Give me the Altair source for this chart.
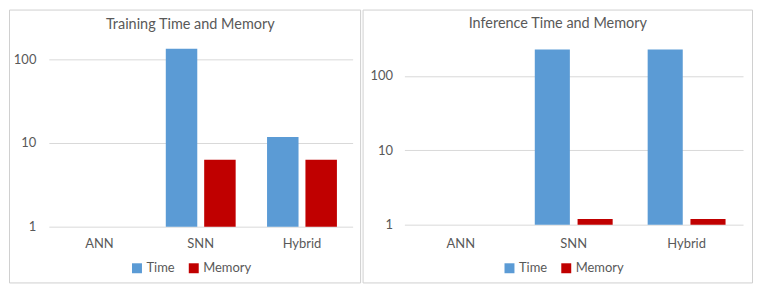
import altair as alt
import pandas as pd

categories = ["ANN", "SNN", "Hybrid"]
series = ["Time", "Memory"]
train_time = [1, 134, 11.8]
train_memory = [1, 6.3, 6.3]
infer_time = [1, 227, 227]
infer_memory = [1, 1.19, 1.19]
y_ticks = [1, 10, 100]
colors = ["#5B9BD5", "#C00000"]
titles = ["Training Time and Memory", "Inference Time and Memory"]

GRAY = "#595959"
FONT = "Lato"


def make_df(time, mem):
    rows = []
    for c, t, m in zip(categories, time, mem):
        rows.append({"model": c, "series": "Time", "value": t})
        rows.append({"model": c, "series": "Memory", "value": m})
    return pd.DataFrame(rows)


one = pd.DataFrame({"k": [0]})


def panel(df, title, w, h, ymax, ypad, xpad, tx, ty, lx, ly, box):
    frame = alt.Chart(one).mark_rect(fillOpacity=0, stroke="#D0D0D0", strokeWidth=1).encode(
        x=alt.value(box[0]), x2=alt.value(box[1]), y=alt.value(box[2]), y2=alt.value(box[3])
    )
    bars = alt.Chart(df).mark_bar().encode(
        x=alt.X(
            "model:N", sort=categories, title=None,
            scale=alt.Scale(paddingInner=0.31, paddingOuter=0.155),
            axis=alt.Axis(labelAngle=0, domain=False, ticks=False, tickSize=0,
                          labelPadding=xpad, grid=False),
        ),
        xOffset=alt.XOffset("series:N", sort=series,
                            scale=alt.Scale(domain=series, paddingInner=0.18, paddingOuter=0)),
        y=alt.Y(
            "value:Q", title=None, stack=False,
            scale=alt.Scale(type="log", domain=[1, ymax], nice=False),
            axis=alt.Axis(values=y_ticks, format="d", domain=False, ticks=False, tickSize=0,
                          labelPadding=ypad, grid=True, gridColor="#D9D9D9", gridWidth=1),
        ),
        color=alt.Color(
            "series:N", sort=series,
            scale=alt.Scale(domain=series, range=colors),
            legend=alt.Legend(title=None, orient="none", legendX=lx, legendY=ly,
                              direction="horizontal", symbolType="square", symbolSize=100,
                              symbolStrokeWidth=0, labelOffset=3, columnPadding=12, padding=0),
        ),
    )
    ttl = alt.Chart(one).mark_text(text=title, fontSize=14.5, font=FONT, color=GRAY,
                                   align="center", baseline="middle").encode(
        x=alt.value(tx), y=alt.value(ty)
    )
    return alt.layer(frame, bars, ttl).properties(width=w, height=h)


left = panel(make_df(train_time, train_memory), titles[0], 305, 185, 159, 13, 11,
             142, -17, 82, 220, [-39.5, 313, -32.5, 241.5])
right = panel(make_df(infer_time, infer_memory), titles[1], 340, 183, 283, 12, 13,
              154, -18, 99, 220, [-41.5, 349.5, -32.5, 241.5])

chart = (
    alt.hconcat(left, right, spacing=0)
    .resolve_scale(x="independent", y="independent", color="independent", xOffset="independent")
    .resolve_legend(color="independent")
    .properties(padding=0)
    .configure_view(stroke="transparent")
    .configure_axis(labelFont=FONT, labelColor=GRAY, labelFontSize=13)
    .configure_legend(labelFont=FONT, labelColor=GRAY, labelFontSize=13)
)

chart.save("out.html", embed_options={"renderer": "svg", "actions": False})
